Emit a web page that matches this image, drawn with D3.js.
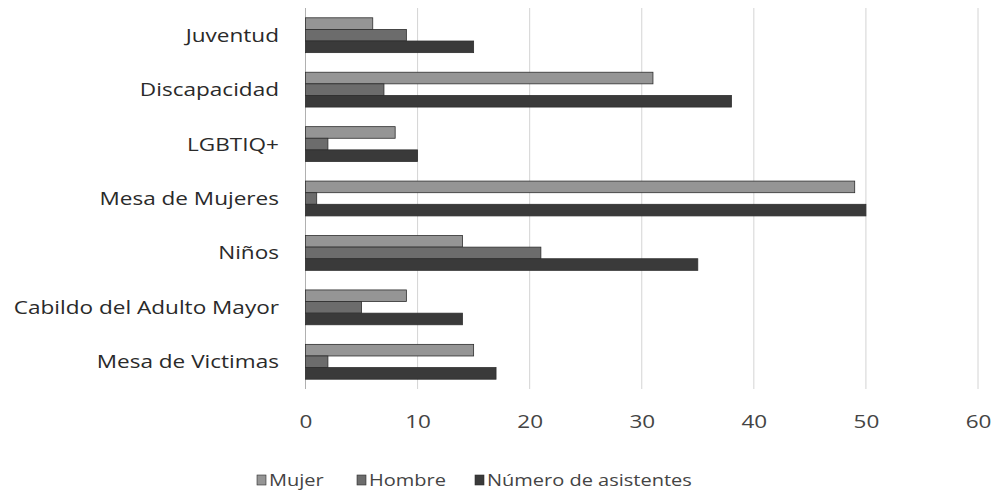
<!DOCTYPE html>
<html><head><meta charset="utf-8">
<script src="https://cdn.jsdelivr.net/npm/d3@7"></script>
<style>body{margin:0;background:#fff}svg{display:block}</style>
</head><body>
<svg id="c" width="995" height="493"></svg>
<script>
const categories = ["Juventud","Discapacidad","LGBTIQ+","Mesa de Mujeres","Niños","Cabildo del Adulto Mayor","Mesa de Victimas"];
const seriesNames = ["Mujer","Hombre","Número de asistentes"];
const mujer = [6,31,8,49,14,9,15];
const hombre = [9,7,2,1,21,5,2];
const asistentes = [15,38,10,50,35,14,17];
const ticks = [0,10,20,30,40,50,60];
const colors = ["#959595","#6c6c6c","#3a3a3a"];

const values = [mujer, hombre, asistentes];
const svg = d3.select("#c");
const font = "'Open Sans', 'Liberation Sans', sans-serif";
const x = d3.scaleLinear().domain([0,60]).range([305.5,978]);
const y = d3.scaleBand().domain(categories).range([8,389]).paddingInner(0.36).paddingOuter(0.18);
const y1 = d3.scaleBand().domain(seriesNames).range([0,y.bandwidth()]);

// gridlines
svg.append("g").selectAll("line").data(ticks).join("line")
  .attr("x1",d=>x(d)).attr("x2",d=>x(d)).attr("y1",8).attr("y2",389)
  .attr("stroke",d=>d===0?"#b0b0b0":"#d4d4d4").attr("stroke-width",1);

// bars
const g = svg.append("g");
categories.forEach((c,i)=>{
  seriesNames.forEach((s,j)=>{
    g.append("rect")
      .attr("x",x(0)).attr("y",y(c)+y1(s))
      .attr("width",x(values[j][i])-x(0)).attr("height",y1.bandwidth())
      .attr("fill",colors[j]).attr("stroke","#2e2e2e").attr("stroke-width",0.8);
  });
});

// category labels
svg.append("g").selectAll("text").data(categories).join("text")
  .attr("transform",d=>`translate(279,${y(d)+y.bandwidth()/2}) scale(1.22,1)`)
  .attr("dy","0.35em")
  .attr("text-anchor","end").attr("font-family",font).attr("font-size",18.5).attr("fill","#2a2a2a")
  .text(d=>d);

// x axis tick labels
const xa = svg.append("g").attr("transform","translate(0,408)")
  .call(d3.axisBottom(x).tickValues(ticks).tickSize(0).tickPadding(0));
xa.select(".domain").remove();
xa.selectAll("text").attr("font-family",font).attr("font-size",18).attr("fill","#444")
  .attr("y",14).attr("dy","0.35em").attr("transform","scale(1.25,1)");

// legend
const legX = [257, 357, 475];
const lg = svg.append("g");
seriesNames.forEach((s,j)=>{
  lg.append("rect").attr("x",legX[j]).attr("y",475).attr("width",9).attr("height",10)
    .attr("fill",colors[j]).attr("stroke","#2e2e2e").attr("stroke-width",0.6);
  lg.append("text").attr("transform",`translate(${legX[j]+12},480) scale(1.25,1)`).attr("dy","0.35em")
    .attr("font-family",font).attr("font-size",16).attr("fill","#444").text(s);
});
</script>
</body></html>
